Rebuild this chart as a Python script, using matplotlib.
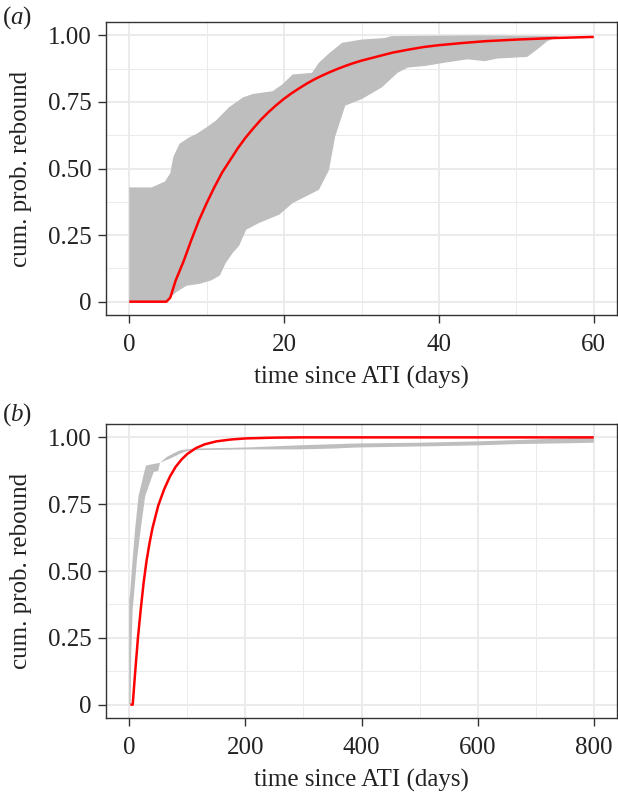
import matplotlib
matplotlib.use('Agg')
import matplotlib.pyplot as plt

plt.rcParams['font.family'] = ['Liberation Serif', 'DejaVu Serif']
plt.rcParams['mathtext.fontset'] = 'custom'
plt.rcParams['mathtext.rm'] = 'Liberation Serif'
plt.rcParams['mathtext.it'] = 'Liberation Serif:italic'

# panel (a): fitted curve (red) and band (grey)
a_fit_t = [0, 4.8, 5.3, 6, 7, 8, 9, 10, 11, 12, 13, 14, 15, 16, 17, 18, 19, 20, 21, 22, 23, 24, 25,
           26, 27, 28, 29, 30, 32, 34, 36, 38, 40, 43, 46, 50, 55, 60]
a_fit_p = [0, 0, 0.015, 0.08, 0.15, 0.23, 0.305, 0.37, 0.43, 0.485, 0.53, 0.575, 0.615, 0.65, 0.683,
           0.712, 0.738, 0.762, 0.783, 0.802, 0.82, 0.836, 0.85, 0.863, 0.875, 0.886, 0.896, 0.905,
           0.92, 0.935, 0.946, 0.956, 0.963, 0.971, 0.978, 0.984, 0.99, 0.994]

a_up_t = [0, 2.9, 4.6, 5.3, 5.7, 6.5, 7.8, 8.7, 10, 11.2, 12.9, 14.7, 16, 18.5, 19.8, 21.1, 23.6, 24.5,
          25.8, 27.5, 30, 33, 33.9, 45, 55.5]
a_up_p = [0.429, 0.429, 0.451, 0.482, 0.544, 0.593, 0.618, 0.63, 0.655, 0.68, 0.73, 0.767, 0.78, 0.79,
          0.816, 0.853, 0.859, 0.897, 0.932, 0.972, 0.984, 0.99, 0.997, 1.0, 0.997]

a_lo_t = [0, 4.8, 5.3, 6.1, 7.4, 9.1, 10.6, 11.7, 12.5, 13.4, 14.2, 15.1, 16.8, 19.4, 21.1, 22.8, 24.5,
          25.8, 26.6, 27.9, 30, 32.6, 34.7, 36, 38.2, 40.7, 43.7, 45.9, 47.6, 51.4, 52.7, 54, 55.5]
a_lo_p = [0, 0, 0.017, 0.036, 0.06, 0.067, 0.08, 0.098, 0.147, 0.184, 0.21, 0.27, 0.296, 0.327, 0.37,
          0.395, 0.42, 0.494, 0.62, 0.736, 0.76, 0.804, 0.86, 0.879, 0.885, 0.897, 0.91, 0.903, 0.913,
          0.919, 0.947, 0.978, 0.997]

# panel (b)
b_fit_t = [2, 6, 10, 15, 20, 25, 30, 35, 40, 50, 60, 70, 80, 90, 100, 115, 130, 150, 175, 200, 250, 300, 800]
b_fit_p = [0, 0, 0.115, 0.25, 0.36, 0.46, 0.54, 0.605, 0.66, 0.745, 0.805, 0.853, 0.89, 0.917, 0.938,
           0.96, 0.974, 0.985, 0.992, 0.996, 0.999, 1.0, 1.0]

b_up_t = [0, 1.7, 5.7, 10.3, 16, 25.8, 29, 53, 65, 76, 88, 110, 200, 290, 390, 500, 600, 670, 760, 800]
b_up_p = [0.39, 0.42, 0.54, 0.66, 0.78, 0.87, 0.895, 0.905, 0.927, 0.94, 0.952, 0.958, 0.962, 0.97,
          0.977, 0.98, 0.985, 0.99, 0.997, 0.998]
b_lo_t = [0, 2.5, 3.5, 6, 8.6, 13.2, 20, 27.5, 42, 50, 53, 70, 88, 99, 110, 200, 290, 350, 390, 500,
          600, 670, 760, 800]
b_lo_p = [0, 0, 0.2, 0.36, 0.42, 0.54, 0.66, 0.78, 0.87, 0.875, 0.905, 0.92, 0.939, 0.948, 0.952, 0.955,
          0.955, 0.958, 0.962, 0.966, 0.97, 0.975, 0.978, 0.98]

y_ticks = [0, 0.25, 0.5, 0.75, 1.0]
y_labels = ['0', '0.25', '0.50', '0.75', '1.00']
a_xticks = [0, 20, 40, 60]
b_xticks = [0, 200, 400, 600, 800]

W, H = 618, 794
fig = plt.figure(figsize=(W / 100, H / 100), dpi=100)


def make_panel(rect, xmax, xticks, minor_x):
    ax = fig.add_axes(rect)
    ax.set_xlim(-0.05 * xmax, 1.05 * xmax)
    ax.set_ylim(-0.05, 1.05)
    ax.set_xticks(xticks)
    ax.set_xticks(minor_x, minor=True)
    ax.set_yticks(y_ticks)
    ax.set_yticklabels(y_labels)
    ax.set_yticks([0.125, 0.375, 0.625, 0.875], minor=True)
    ax.grid(True, which='major', color='#EBEBEB', lw=1.4)
    ax.grid(True, which='minor', color='#EBEBEB', lw=0.7)
    ax.set_axisbelow(True)
    for s in ax.spines.values():
        s.set_color('#333333')
        s.set_linewidth(1.0)
    ax.tick_params(which='major', length=5.5, width=1.0, color='#333333',
                   labelsize=18, labelcolor='#222222')
    ax.tick_params(axis='x', which='major', pad=8)
    ax.tick_params(axis='y', which='major', pad=5)
    ax.tick_params(which='minor', length=0)
    ax.set_xlabel('time since ATI (days)', fontsize=18, color='#222222', labelpad=7)
    ax.set_ylabel('cum. prob. rebound', fontsize=18, color='#222222', labelpad=11)
    return ax


ax1 = make_panel([106 / W, 1 - 315 / H, 511 / W, 293 / H], 60, a_xticks, [10, 30, 50])
ax1.fill(a_up_t + a_lo_t[::-1], a_up_p + a_lo_p[::-1], color='#BEBEBE', lw=0)
ax1.plot(a_fit_t, a_fit_p, color='#FF0000', lw=1.8, solid_capstyle='butt')

ax2 = make_panel([106 / W, 1 - 718 / H, 511 / W, 294 / H], 800, b_xticks, [100, 300, 500, 700])
ax2.fill(b_up_t + b_lo_t[::-1], b_up_p + b_lo_p[::-1], color='#BEBEBE', lw=0)
ax2.plot(b_fit_t, b_fit_p, color='#FF0000', lw=1.8, solid_capstyle='butt')

fig.text(2 / W, 1 - 18 / H, r'($a$)', fontsize=18, color='#222222', va='center', ha='left')
fig.text(2 / W, 1 - 415 / H, r'($b$)', fontsize=18, color='#222222', va='center', ha='left')

fig.savefig('out.png', dpi=100)
